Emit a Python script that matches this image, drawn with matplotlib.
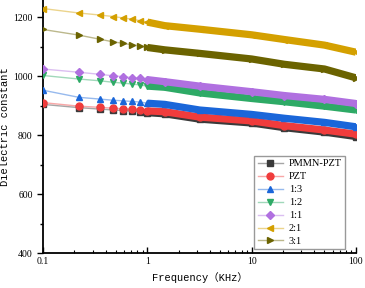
import numpy as np
import matplotlib
matplotlib.use("Agg")
import matplotlib.pyplot as plt
from matplotlib.colors import to_rgba

# frequency points (kHz)
freq = [0.1, 0.22, 0.35, 0.47, 0.59, 0.71, 0.85, 1.0, 1.47, 3.17, 10, 20.6, 50, 100]

pmmn_pzt = [904, 893, 888, 885, 883, 881, 879, 876, 872, 854, 841, 825, 810, 795]
pzt      = [910, 898, 894, 891, 889, 887, 885, 882, 879, 861, 848, 832, 817, 803]
r13      = [952, 928, 922, 918, 916, 914, 912, 908, 904, 885, 870, 857, 843, 828]
r12      = [1002, 990, 984, 979, 976, 973, 970, 966, 962, 943, 924, 913, 898, 885]
r11      = [1024, 1013, 1006, 1001, 998, 995, 992, 988, 981, 966, 947, 934, 921, 907]
r21      = [1229, 1214, 1207, 1202, 1197, 1193, 1188, 1183, 1171, 1159, 1140, 1124, 1105, 1081]
r31      = [1158, 1139, 1125, 1116, 1111, 1106, 1102, 1097, 1089, 1077, 1058, 1040, 1024, 994]

labels = ["PMMN-PZT", "PZT", "1:3", "1:2", "1:1", "2:1", "3:1"]
series = [pmmn_pzt, pzt, r13, r12, r11, r21, r31]
colors = ["#3a3a3a", "#f03c3c", "#1a66d9", "#2eaa66", "#b070e0", "#d4a000", "#6b6300"]
markers = ["s", "o", "^", "v", "D", "<", ">"]

serif = "Liberation Serif"
mono = ["Liberation Mono", "Noto Sans CJK SC"]

fig = plt.figure(figsize=(3.65, 2.88), dpi=100)
ax = fig.add_axes([0.118, 0.1215, 0.857, 0.8785])

f = np.array(freq)
for vals, lab, c, m in zip(series, labels, colors, markers):
    v = np.array(vals)
    ms = 4.2 if m == "D" else 5
    pale = to_rgba(c, 0.45)
    ax.plot(f, v, color=pale, lw=1, zorder=2)
    ax.plot(f, v, ls="none", marker=m, ms=ms, color=c, mec=c, zorder=3)
    hi = f >= 1.0
    ax.plot(f[hi], v[hi], color=c, lw=5.2, solid_capstyle="butt", zorder=3)
    # legend handle
    ax.plot([], [], color=pale, lw=1, marker=m, ms=ms, mfc=c, mec=c, label=lab)

ax.set_xscale("log")
ax.set_xlim(0.1, 100)
ax.set_ylim(400, 1258)
ax.set_yticks([400, 600, 800, 1000, 1200])
ax.set_yticks([500, 700, 900, 1100], minor=True)
ax.set_xticks([0.1, 1, 10, 100])
ax.set_xticklabels(["0.1", "1", "10", "100"])

for s in ["top", "right"]:
    ax.spines[s].set_visible(False)
for s in ["left", "bottom"]:
    ax.spines[s].set_linewidth(1.3)

ax.tick_params(axis="y", which="major", direction="out", length=4, width=1, labelsize=7)
ax.tick_params(axis="y", which="minor", direction="out", length=2.5, width=1)
ax.tick_params(axis="x", which="major", direction="in", length=4, width=1, labelsize=7, pad=3)
ax.tick_params(axis="x", which="minor", direction="in", length=2.5, width=0.8)
for t in ax.get_xticklabels() + ax.get_yticklabels():
    t.set_family(serif)

ax.set_xlabel("Frequency（KHz）", family=mono, fontsize=7.5, labelpad=4)
ax.set_ylabel("Dielectric constant", family=mono, fontsize=7.5, labelpad=2)

h, l = ax.get_legend_handles_labels()
leg = ax.legend(h[-7:], l[-7:], loc="lower right", bbox_to_anchor=(0.965, 0.015),
                prop={"family": serif, "size": 7.5}, fancybox=False,
                edgecolor="#999999", framealpha=1, handlelength=2.4,
                labelspacing=0.35, borderpad=0.3, handletextpad=0.6,
                borderaxespad=0)
leg.get_frame().set_linewidth(1)

fig.savefig("out.png", dpi=100)
